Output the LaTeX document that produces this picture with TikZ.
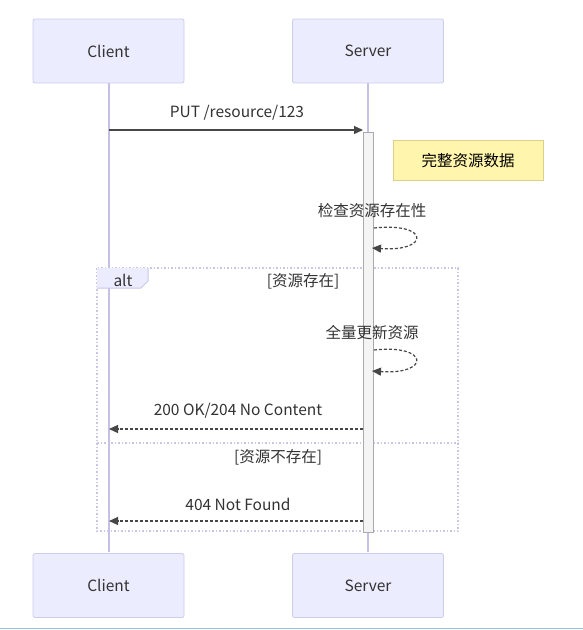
\documentclass[tikz,border=0pt]{standalone}
\usepackage{fontspec}
\setmainfont{Noto Sans CJK SC}
\usetikzlibrary{arrows.meta}
\definecolor{actfill}{HTML}{ECECFF}
\definecolor{actdraw}{HTML}{CCCCEE}
\definecolor{life}{HTML}{C4C0E6}
\definecolor{txt}{HTML}{333333}
\definecolor{notefill}{HTML}{FFF5AD}
\definecolor{notedraw}{HTML}{DED08A}
\definecolor{loopc}{HTML}{C9C6E6}
\definecolor{bar}{HTML}{F4F4F4}
\definecolor{bardraw}{HTML}{AAAAAA}
\definecolor{bline}{HTML}{9CC3DA}
\tikzset{
  actor/.style={draw=actdraw, fill=actfill, rounded corners=2pt, minimum width=151pt, minimum height=64pt, text=txt, font=\fontsize{15.5}{18}\selectfont, line width=0.8pt},
  lbl/.style={text=txt, font=\fontsize{15.5}{18}\selectfont, inner sep=0pt},
  msg/.style={draw=txt!90, line width=1.2pt, -{Triangle[length=9pt,width=8pt]}},
  dmsg/.style={msg, dash pattern=on 3pt off 2pt},
  framec/.style={draw=loopc, line width=1.2pt, dash pattern=on 1.5pt off 2pt},
}
\begin{document}
\begin{tikzpicture}[x=1pt,y=-1pt]
\useasboundingbox (0,0) rectangle (583,630);
\fill[white] (0,0) rectangle (583,630);
% lifelines
\coordinate (cT) at (109,82); \coordinate (cB) at (109,552);
\coordinate (sT) at (368,82); \coordinate (sB) at (368,552);
\draw[life, line width=1.2pt] (cT) -- (cB);
\draw[life, line width=1.2pt] (sT) -- (sB);
% actors
\node[actor] (c1) at (108.5,51) {Client};
\node[actor] (s1) at (368,51) {Server};
\node[actor] (c2) at (108.5,585.5) {Client};
\node[actor] (s2) at (368,585.5) {Server};
% alt frame
\draw[framec] (97,268) rectangle (458,531);
\draw[framec] (97,443) -- (458,443);
\fill[actfill] (97,268) -- (148,268) -- (148,281) -- (141,288) -- (97,288) -- cycle;
\draw[loopc, line width=1pt] (148,268) -- (148,281) -- (141,288) -- (97,288);
\node[lbl] (alt) at (123,280) {alt};
\node[lbl] (cond1) at (303,281) {[资源存在]};
\node[lbl] (cond2) at (278,457) {[资源不存在]};
% activation
\node[draw=bardraw, fill=bar, line width=1pt, minimum width=10pt, minimum height=400pt, inner sep=0pt, anchor=north] (act) at (368,132) {};
% put message
\coordinate (p0) at (109,130);
\coordinate (p1) at (363,130);
\draw[msg] (p0) -- (p1);
\node[lbl] (putl) at (237,113) {PUT /resource/123};
% note
\node[draw=notedraw, fill=notefill, line width=1pt, minimum width=150pt, minimum height=40pt, text=black, font=\fontsize{15.5}{18}\selectfont] (note) at (468,160.5) {完整资源数据};
% self 1
\node[lbl] (chk) at (372,211) {检查资源存在性};
\coordinate (a0) at (374,228); \coordinate (a1) at (372,248);
\draw[dmsg] (a0) .. controls (430,222) and (430,252) .. (a1);
% self 2
\node[lbl] (upd) at (372,333) {全量更新资源};
\coordinate (b0) at (374,350); \coordinate (b1) at (372,371);
\draw[dmsg] (b0) .. controls (430,344) and (430,375) .. (b1);
% replies
\node[lbl] (ok) at (238,411) {200 OK/204 No Content};
\coordinate (r0) at (363,429); \coordinate (r1) at (109,429);
\draw[dmsg] (r0) -- (r1);
\node[lbl] (nf) at (238,504) {404 Not Found};
\coordinate (n0) at (363,521); \coordinate (n1) at (109,521);
\draw[dmsg] (n0) -- (n1);
% bottom line
\draw[bline, line width=1.2pt] (0,628.5) -- (583,628.5);
\end{tikzpicture}
\end{document}
